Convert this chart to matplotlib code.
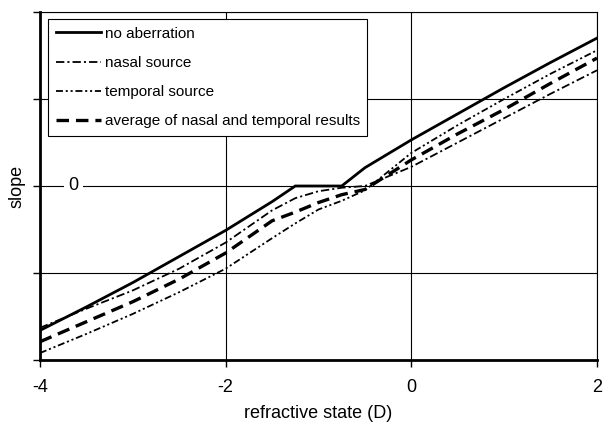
# Slope vs refractive state, four curves
import numpy as np
import matplotlib
matplotlib.use('Agg')
import matplotlib.pyplot as plt

plt.rcParams['font.family'] = ['Liberation Sans', 'DejaVu Sans']
plt.rcParams['lines.scale_dashes'] = False

# refractive state (D)
refraction = [-4, -3.5, -3, -2.5, -2, -1.5, -1.25, -1, -0.75, -0.5, 0, 0.5, 1, 1.5, 2]

# slope values
no_aberration = [-1.66, -1.39, -1.11, -0.81, -0.51, -0.18, 0.0, 0.0, 0.0, 0.21, 0.53, 0.83, 1.13, 1.42, 1.70]
nasal = [-1.63, -1.41, -1.20, -0.95, -0.65, -0.28, -0.14, -0.06, -0.02, 0.0, 0.22, 0.50, 0.78, 1.06, 1.33]
temporal = [-1.92, -1.70, -1.47, -1.22, -0.95, -0.60, -0.43, -0.27, -0.17, -0.05, 0.38, 0.70, 1.00, 1.29, 1.56]
average = [-1.79, -1.56, -1.33, -1.07, -0.77, -0.40, -0.30, -0.19, -0.10, -0.04, 0.30, 0.60, 0.88, 1.18, 1.47]

fig = plt.figure(figsize=(6.04, 4.24), dpi=100)
ax = fig.add_axes([40/604, 64/424, 557/604, 348/424])

# grid
for gx in [-2, 0, 2]:
    ax.axvline(gx, color='black', lw=0.8, zorder=1)
for gy in [-1, 0, 1, 2]:
    ax.axhline(gy, color='black', lw=0.8, zorder=1)

ax.plot(refraction, no_aberration, color='black', lw=2.0, solid_joinstyle='miter',
        label='no aberration', zorder=3)
ax.plot(refraction, nasal, color='black', lw=1.3, dashes=[6, 2.2, 1.5, 2.2],
        label='nasal source', zorder=3)
ax.plot(refraction, temporal, color='black', lw=1.3, dashes=[5, 2, 1.5, 2, 1.5, 2],
        label='temporal source', zorder=3)
ax.plot(refraction, average, color='black', lw=2.4, dashes=[9, 5],
        label='average of nasal and temporal results', zorder=3)

ax.set_xlim(-4, 2)
ax.set_ylim(-2, 2)
ax.set_xticks([-4, -2, 0, 2])
ax.set_xticklabels(['-4', '-2', '0', '2'])
ax.set_yticks([-2, -1, 0, 1, 2])
ax.set_yticklabels([])
ax.tick_params(axis='both', direction='out', length=5, width=1, color='black',
               labelsize=13, pad=9)

# the only y label sits inside the plot on the zero line
ax.text(-3.64, 0, '0', ha='center', va='center', fontsize=13, zorder=2,
        bbox=dict(facecolor='white', edgecolor='none', pad=3))

for side in ['left', 'bottom']:
    ax.spines[side].set_linewidth(2.0)
for side in ['top', 'right']:
    ax.spines[side].set_linewidth(0.8)

ax.set_xlabel('refractive state (D)', fontsize=13, labelpad=6)
ax.set_ylabel('slope', fontsize=13)
ax.yaxis.set_label_coords(-0.026, 0.5)

leg = ax.legend(loc='upper left', bbox_to_anchor=(0.0144, 0.980), borderaxespad=0,
                fontsize=11, handlelength=3.0, handletextpad=0.2, labelspacing=1.0,
                fancybox=False, framealpha=1, edgecolor='black', borderpad=0.5)
leg.get_frame().set_linewidth(0.8)
leg.set_zorder(4)

plt.savefig('out.png', dpi=100)
